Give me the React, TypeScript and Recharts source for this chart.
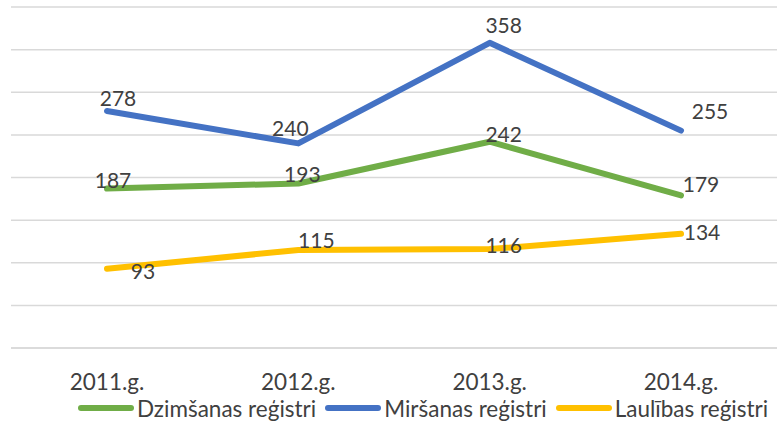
import { LineChart, Line, XAxis, YAxis, CartesianGrid, Legend, LabelList } from "recharts"

const years = ["2011.g.", "2012.g.", "2013.g.", "2014.g."]
const dzimsanas = [187, 193, 242, 179]
const mirsanas = [278, 240, 358, 255]
const laulibas = [93, 115, 116, 134]
const yTicks = [0, 50, 100, 150, 200, 250, 300, 350, 400]

const data = years.map((year, i) => ({
  year,
  dzimsanas: dzimsanas[i],
  mirsanas: mirsanas[i],
  laulibas: laulibas[i],
}))

const series = [
  { key: "dzimsanas", name: "Dzimšanas reģistri", color: "#70AD47" },
  { key: "mirsanas", name: "Miršanas reģistri", color: "#4472C4" },
  { key: "laulibas", name: "Laulības reģistri", color: "#FFC000" },
]

// label nudges, like Excel's hand-placed data labels
const labelShift: Record<string, [number, number][]> = {
  dzimsanas: [[6, -9], [4, -10], [14, -8], [20, -12]],
  mirsanas: [[11, -14], [-8, -16], [14, -18], [29, -20]],
  laulibas: [[36, 2], [18, -10], [14, -5], [21, -2]],
}

const font = "Lato, 'Open Sans', sans-serif"

function makeLabel(key: string) {
  return (props: any) => {
    const { x, y, value, index } = props
    const [dx, dy] = labelShift[key][index]
    return (
      <text
        x={x + dx}
        y={y + dy}
        textAnchor="middle"
        dominantBaseline="central"
        fontSize={21}
        fontFamily={font}
        fill="#404040"
      >
        {value}
      </text>
    )
  }
}

function LegendContent() {
  return (
    <div style={{ display: "flex", alignItems: "center", height: 28, boxSizing: "border-box", paddingLeft: 78, paddingTop: 2, fontFamily: font, fontSize: 22.5, color: "#404040" }}>
      {series.map((s) => (
        <div key={s.key} style={{ display: "flex", alignItems: "center", marginRight: 9 }}>
          <span style={{ display: "inline-block", width: 56, height: 6, borderRadius: 3, background: s.color, marginRight: 3 }} />
          <span style={{ whiteSpace: "nowrap" }}>{s.name}</span>
        </div>
      ))}
    </div>
  )
}

export default function App() {
  return (
    <div style={{ position: "absolute", left: 0, top: 0, width: 777, height: 421, background: "#fff", overflow: "hidden" }}>
      <LineChart width={777} height={421} data={data} margin={{ top: 7, right: 0, bottom: 0, left: 11 }}>
        <CartesianGrid vertical={false} stroke="#d9d9d9" strokeWidth={1.5} />
        <XAxis
          dataKey="year"
          height={45}
          padding={{ left: 96, right: 96 }}
          tickLine={false}
          tickSize={0}
          tickMargin={26}
          axisLine={{ stroke: "#d9d9d9", strokeWidth: 1.5 }}
          tick={{ fontSize: 22.5, fontFamily: font, fill: "#404040" }}
        />
        <YAxis hide domain={[0, 400]} ticks={yTicks} />
        <Legend verticalAlign="bottom" content={<LegendContent />} wrapperStyle={{ left: 0, width: 777 }} />
        {series.map((s) => (
          <Line
            key={s.key}
            dataKey={s.key}
            name={s.name}
            stroke={s.color}
            strokeWidth={6}
            strokeLinecap="round"
            strokeLinejoin="round"
            dot={false}
            isAnimationActive={false}
          >
            <LabelList dataKey={s.key} content={makeLabel(s.key)} />
          </Line>
        ))}
      </LineChart>
    </div>
  )
}
